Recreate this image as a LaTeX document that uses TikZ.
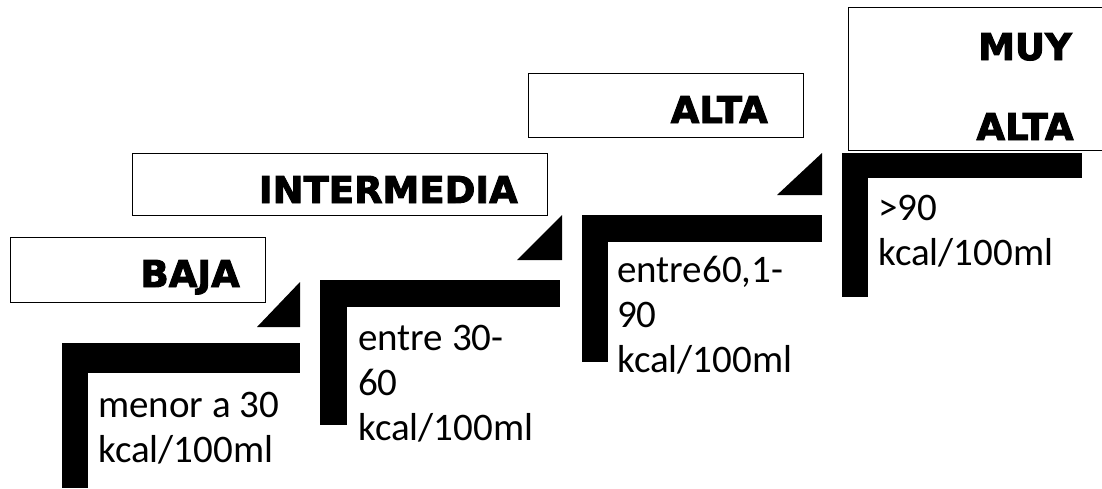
\documentclass[tikz,border=0pt]{standalone}
\usepackage{fontspec}
\setmainfont{Carlito}
\newfontfamily\cabfont{DejaVu Sans}[BoldFeatures={FakeBold=2.6}]
\usetikzlibrary{positioning}
\tikzset{
  caja/.style={draw, line width=1.3pt, anchor=north west, inner sep=0pt},
  titulo/.style={font=\cabfont\bfseries\fontsize{37}{80}\selectfont, anchor=base east, inner sep=0pt},
  valor/.style={font=\fontsize{39}{45}\selectfont, align=left, anchor=base west, inner sep=0pt},
  escalon/.style={fill=black},
}

\begin{document}
\begin{tikzpicture}[x=1pt, y=-1pt]
\useasboundingbox (0,0) rectangle (1102,488);

% cajas con los nombres
\node[caja, minimum width=255pt, minimum height=65pt] (cajaBaja) at (10,237) {};
\node[caja, minimum width=415pt, minimum height=62pt] (cajaInter) at (132,153) {};
\node[caja, minimum width=275pt, minimum height=64pt] (cajaAlta) at (528,73) {};
\node[caja, minimum width=262pt, minimum height=143pt] (cajaMuy) at (848,7) {};

\node[titulo] (tBaja) at (240,287) {BAJA};
\node[titulo] (tInter) at (518,203) {INTERMEDIA};
\node[titulo] (tAlta) at (768,123) {ALTA};
\node[titulo, anchor=base, align=center] (tMuy) at (1025,140) {MUY\\ALTA};

% escalones en L
\fill[escalon] (62,343) rectangle (300,373);
\fill[escalon] (62,343) rectangle (88,488);
\fill[escalon] (320,280) rectangle (560,307);
\fill[escalon] (320,280) rectangle (347,425);
\fill[escalon] (582,215) rectangle (822,242);
\fill[escalon] (582,215) rectangle (608,362);
\fill[escalon] (842,153) rectangle (1082,178);
\fill[escalon] (842,153) rectangle (868,297);

% triangulos
\fill[escalon] (257,327) -- (300,327) -- (300,282) -- cycle;
\fill[escalon] (517,260) -- (562,260) -- (562,215) -- cycle;
\fill[escalon] (777,195) -- (822,195) -- (822,153) -- cycle;

% valores (base = ultima linea)
\node[valor] (vBaja) at (98,462) {menor a 30\\kcal/100ml};
\node[valor] (vInter) at (358,440) {entre 30-\\60\\kcal/100ml};
\node[valor] (vAlta) at (617,372) {entre60,1-\\90\\kcal/100ml};
\node[valor] (vMuy) at (878,265) {>90\\kcal/100ml};
\end{tikzpicture}
\end{document}
